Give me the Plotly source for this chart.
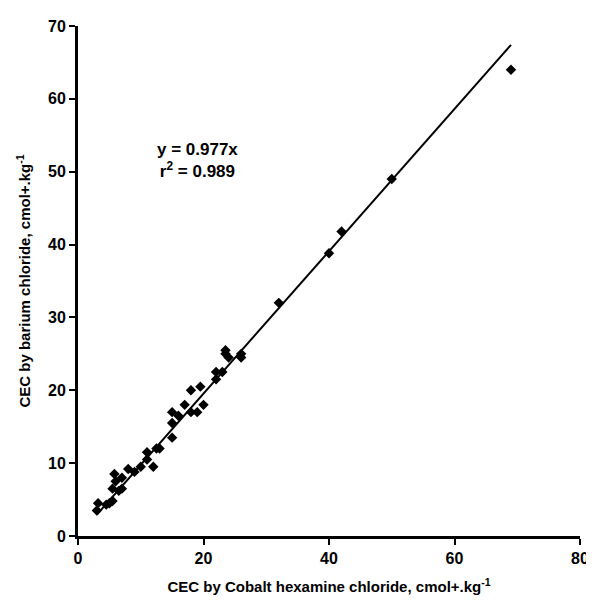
import plotly.graph_objects as go

x_vals = [3,3.2,4.5,5,5.5,5.5,5.8,6,6.5,7,7,8,9,10,11,11,12,12.5,13,15,15,15,16,17,18,18,19,19.5,20,22,22,23,23.5,23.5,24,26,26,32,40,42,50,69]
y_vals = [3.5,4.5,4.3,4.5,4.8,6.5,8.5,7.5,6.2,6.5,8,9.2,8.8,9.5,10.5,11.5,9.5,12,12,13.5,15.5,17,16.5,18,17,20,17,20.5,18,21.5,22.5,22.5,25.5,25,24.5,24.5,25,32,38.8,41.8,49,64]
slope = 0.977
line_x = [3, 69]
line_y = [slope*v for v in line_x]

fig = go.Figure()
fig.add_trace(go.Scatter(x=line_x, y=line_y, mode="lines", line=dict(color="black", width=2), showlegend=False))
fig.add_trace(go.Scatter(x=x_vals, y=y_vals, mode="markers", marker=dict(symbol="diamond", size=8, color="black"), showlegend=False))
fig.add_annotation(x=19, y=51.5, text="<b>y = 0.977x<br>r<sup>2</sup> = 0.989</b>", showarrow=False, font=dict(size=17, color="black"), align="center")
ax = dict(showgrid=False, zeroline=False, showline=True, linecolor="black", linewidth=3, ticks="outside", tickwidth=2, ticklen=6, tickcolor="black", automargin=False,
          tickfont=dict(size=16, color="black", weight="bold"))
fig.update_layout(width=586, height=594, plot_bgcolor="white", paper_bgcolor="white", margin=dict(l=70, r=14, t=18, b=66),
    font=dict(family="Liberation Sans, Arial", color="black"))
fig.update_xaxes(range=[0,80], dtick=20, title=dict(text="<b>CEC by Cobalt hexamine chloride, cmol+.kg<sup>-1</sup></b>", font=dict(size=15), standoff=16), **ax)
fig.update_yaxes(range=[0,70], dtick=10, title=dict(text="<b>CEC by barium chloride, cmol+.kg<sup>-1</sup></b>", font=dict(size=15), standoff=14), **ax)
fig.write_html("out.html")
